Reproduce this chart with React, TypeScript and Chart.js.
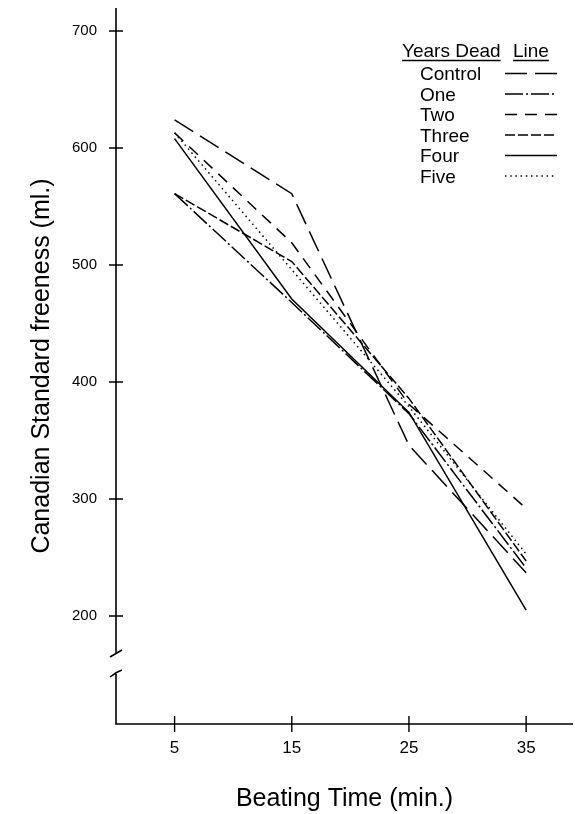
import React, { useEffect, useRef } from "react";
import { Chart, registerables } from "chart.js";

Chart.register(...registerables);

const beatingTimes = [5, 15, 25, 35];
const seriesNames = ["Control", "One", "Two", "Three", "Four", "Five"];
const controlValues = [624, 561, 346, 237];
const oneValues = [561, 468, 373, 241];
const twoValues = [613, 519, 381, 292];
const threeValues = [561, 503, 386, 247];
const fourValues = [608, 471, 374, 205];
const fiveValues = [613, 496, 379, 253];
const xTickValues = [5, 15, 25, 35];
const yTickValues = [200, 300, 400, 500, 600, 700];

const FONT = "'Liberation Sans', Arial, Helvetica, sans-serif";
const dashes: number[][] = [
  [22, 8],
  [18, 3, 2, 3],
  [12, 8],
  [10, 3],
  [],
  [1.5, 3.7],
];
const allValues = [controlValues, oneValues, twoValues, threeValues, fourValues, fiveValues];

const decorPlugin = {
  id: "decor",
  afterDraw(chart: any) {
    const { ctx, chartArea } = chart;
    const xs = chart.scales.x;
    const ys = chart.scales.y;
    const left = chartArea.left;
    const bottom = chartArea.bottom;
    ctx.save();
    ctx.strokeStyle = "#000";
    ctx.lineWidth = 1.6;
    ctx.setLineDash([]);
    // y axis with break
    const breakTop = 653;
    const breakBot = 673;
    ctx.beginPath();
    ctx.moveTo(left, chartArea.top);
    ctx.lineTo(left, breakTop);
    ctx.moveTo(left - 6, breakTop + 4);
    ctx.lineTo(left + 6, breakTop - 3);
    ctx.moveTo(left - 6, breakBot + 4);
    ctx.quadraticCurveTo(left, breakBot - 1, left + 6, breakBot - 3);
    ctx.moveTo(left, breakBot + 1);
    ctx.lineTo(left, bottom);
    ctx.lineTo(chartArea.right, bottom);
    ctx.stroke();
    // ticks
    ctx.lineWidth = 1.4;
    ctx.beginPath();
    yTickValues.forEach((v) => {
      const py = ys.getPixelForValue(v);
      ctx.moveTo(left - 7, py);
      ctx.lineTo(left + 7, py);
    });
    xTickValues.forEach((v) => {
      const px = xs.getPixelForValue(v);
      ctx.moveTo(px, bottom - 8);
      ctx.lineTo(px, bottom + 8);
    });
    ctx.stroke();

    // legend
    ctx.fillStyle = "#000";
    ctx.font = "19px " + FONT;
    ctx.textBaseline = "alphabetic";
    ctx.textAlign = "left";
    const hx = 402;
    const hy = 57;
    ctx.fillText("Years Dead", hx, hy);
    const w1 = ctx.measureText("Years Dead").width;
    const lx = 513;
    ctx.fillText("Line", lx, hy);
    const w2 = ctx.measureText("Line").width;
    ctx.lineWidth = 1.3;
    ctx.beginPath();
    ctx.moveTo(hx, hy + 3.5);
    ctx.lineTo(hx + w1, hy + 3.5);
    ctx.moveTo(lx, hy + 3.5);
    ctx.lineTo(lx + w2, hy + 3.5);
    ctx.stroke();
    seriesNames.forEach((name, i) => {
      const cy = 73.5 + i * 20.5;
      ctx.fillText(name, 420, cy + 6.5);
      ctx.setLineDash(dashes[i]);
      ctx.lineWidth = 1.5;
      ctx.beginPath();
      ctx.moveTo(505, cy);
      ctx.lineTo(557, cy);
      ctx.stroke();
    });
    ctx.restore();
  },
};

export default function App() {
  const ref = useRef<HTMLCanvasElement | null>(null);
  useEffect(() => {
    document.body.style.margin = "0";
    const canvas = ref.current!;
    const chart = new Chart(canvas, {
      type: "line",
      data: {
        datasets: seriesNames.map((name, i) => ({
          label: name,
          data: beatingTimes.map((t, j) => ({ x: t, y: allValues[i][j] })),
          borderColor: "#000",
          borderWidth: 1.5,
          borderDash: dashes[i],
          pointRadius: 0,
          tension: 0,
          fill: false,
        })),
      },
      options: {
        animation: false,
        responsive: false,
        devicePixelRatio: 1,
        layout: { padding: { top: 8, right: 2, left: 0, bottom: 0 } },
        plugins: { legend: { display: false }, tooltip: { enabled: false } },
        scales: {
          x: {
            type: "linear",
            min: 0,
            max: 39,
            grid: { display: false, drawTicks: false },
            border: { display: false },
            afterBuildTicks: (s: any) => {
              s.ticks = xTickValues.map((v) => ({ value: v }));
            },
            afterFit: (s: any) => {
              s.height = 90;
              s.paddingLeft = 0;
              s.paddingRight = 0;
            },
            ticks: {
              color: "#000",
              font: { family: FONT, size: 17 },
              padding: 14,
              maxRotation: 0,
              callback: (v: any) => String(v),
            },
            title: {
              display: true,
              text: "Beating Time (min.)",
              color: "#000",
              font: { family: FONT, size: 25 },
              padding: { top: 0, bottom: 0 },
            },
          },
          y: {
            type: "linear",
            min: 107.7,
            max: 719.7,
            grid: { display: false, drawTicks: false },
            border: { display: false },
            afterBuildTicks: (s: any) => {
              s.ticks = yTickValues.map((v) => ({ value: v }));
            },
            afterFit: (s: any) => {
              s.width = 116;
              s.paddingTop = 0;
              s.paddingBottom = 0;
            },
            ticks: {
              color: "#000",
              font: { family: FONT, size: 15 },
              padding: 19,
              callback: (v: any) => String(v),
            },
            title: {
              display: true,
              text: "Canadian Standard freeness (ml.)",
              color: "#000",
              font: { family: FONT, size: 25 },
              padding: { top: 27, bottom: 0 },
            },
          },
        },
      },
      plugins: [decorPlugin],
    });
    return () => chart.destroy();
  }, []);
  return (
    <div style={{ width: 575, height: 814, background: "#fff" }}>
      <canvas ref={ref} width={575} height={814} style={{ display: "block" }} />
    </div>
  );
}
